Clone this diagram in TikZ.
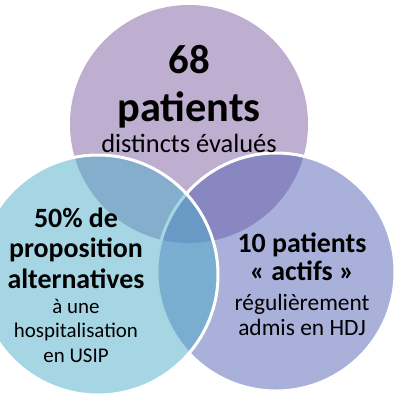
\documentclass[tikz,border=0pt]{standalone}
\usepackage{fontspec}
\setmainfont{Carlito}
\usetikzlibrary{positioning}
\definecolor{toppurple}{RGB}{125,93,161}
\definecolor{leftcyan}{RGB}{77,173,201}
\definecolor{rightblue}{RGB}{83,97,179}

\tikzset{
  bubble/.style={circle, inner sep=0pt, minimum size=#1, fill opacity=0.5},
  rim/.style={draw=white, line width=3bp},
  line/.style={anchor=base, inner sep=0pt, text=black},
}
\newcommand{\fs}[2]{\fontsize{#1}{#2}\selectfont}

\begin{document}
\begin{tikzpicture}[x=1bp, y=-1bp]
    \useasboundingbox (0,0) rectangle (394,395);

    % The three bubbles (drawn top, right, left)
    \node[bubble=238bp, fill=toppurple] (top) at (189,124) {};
    \node[bubble=238bp, fill=rightblue, rim] (right) at (276,272) {};
    \node[bubble=240bp, fill=leftcyan, rim] (left) at (98,275) {};

    % Top bubble text
    \node[line, font=\fs{41}{48}\bfseries] (topa) at (189,73) {68};
    \node[line, font=\fs{42.5}{48}\bfseries] (topb) at (189,121) {patients};
    \node[line, font=\fs{26.5}{30}] (topc) at (189,152) {distincts évalués};

    % Left bubble text
    \node[line, font=\fs{28}{31}\bfseries] (lefta) at (76,227) {50\% de};
    \node[line, font=\fs{28}{31}\bfseries] (leftb) at (76,257) {proposition};
    \node[line, font=\fs{28}{31}\bfseries] (leftc) at (76,288) {alternatives};
    \node[line, font=\fs{21}{25}] (leftd) at (76,313) {à une};
    \node[line, font=\fs{21}{25}] (lefte) at (76,337) {hospitalisation};
    \node[line, font=\fs{21}{25}] (leftf) at (76,362) {en USIP};

    % Right bubble text
    \node[line, font=\fs{28}{30}\bfseries] (righta) at (302,252) {10 patients};
    \node[line, font=\fs{28}{30}\bfseries] (rightb) at (302,280) {« actifs »};
    \node[line, font=\fs{23.5}{26}] (rightc) at (302,310) {régulièrement};
    \node[line, font=\fs{23.5}{26}] (rightd) at (302,335) {admis en HDJ};
\end{tikzpicture}
\end{document}
